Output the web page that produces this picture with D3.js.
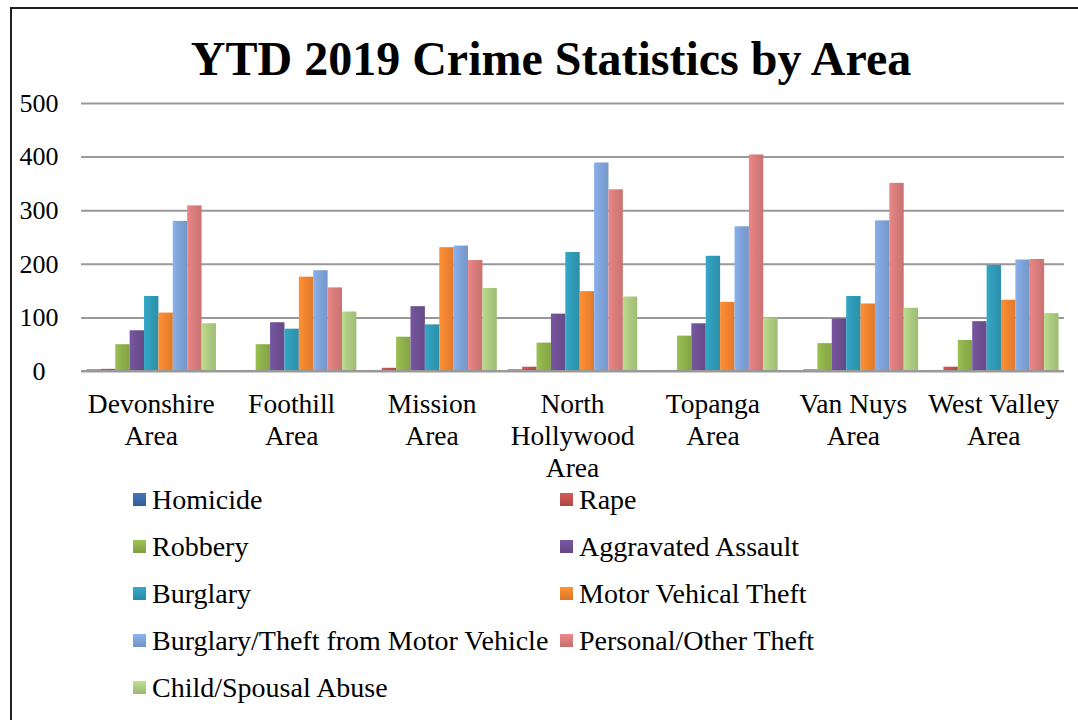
<!DOCTYPE html>
<html>
<head>
<meta charset="utf-8">
<script src="https://cdn.jsdelivr.net/npm/d3@7"></script>
<style>
  html, body { margin: 0; padding: 0; background: #fff; }
  svg { display: block; }
  text { font-family: "Liberation Serif", "Times New Roman", serif; fill: #000; }
</style>
</head>
<body>
<svg id="chart" width="1078" height="720"></svg>
<script>
// ---------- data ----------
const categories = ["Devonshire Area", "Foothill Area", "Mission Area", "North Hollywood Area", "Topanga Area", "Van Nuys Area", "West Valley Area"];
const seriesNames = ["Homicide", "Rape", "Robbery", "Aggravated Assault", "Burglary", "Motor Vehical Theft", "Burglary/Theft from Motor Vehicle", "Personal/Other Theft", "Child/Spousal Abuse"];
const homicide      = [3, 1, 2, 3, 1, 1, 2];
const rape          = [4, 2, 6, 8, 2, 3, 8];
const robbery       = [50, 50, 64, 53, 66, 52, 58];
const aggravated    = [76, 91, 121, 107, 89, 98, 93];
const burglary      = [140, 79, 87, 222, 215, 140, 198];
const motorTheft    = [109, 176, 231, 149, 129, 126, 133];
const theftFromVeh  = [280, 188, 234, 389, 270, 281, 208];
const personalTheft = [309, 156, 207, 339, 404, 351, 209];
const childAbuse    = [89, 111, 155, 139, 100, 118, 108];
const yTicks = [0, 100, 200, 300, 400, 500];
const title = "YTD 2019 Crime Statistics by Area";

const seriesValues = [homicide, rape, robbery, aggravated, burglary, motorTheft, theftFromVeh, personalTheft, childAbuse];
const colors = ["#3a6aa6", "#c0504d", "#8db04a", "#6d4f92", "#2f9ab6", "#f0842f", "#7ea2d8", "#d87b7b", "#acca80"];

// ---------- layout ----------
const svg = d3.select("#chart");
const W = 1078, H = 720;

// outer frame
svg.append("path")
  .attr("d", `M11,${H + 5} L11,8 L${W + 5},8`)
  .attr("fill", "none").attr("stroke", "#222").attr("stroke-width", 2);

// title
svg.append("text")
  .attr("x", 551).attr("y", 75)
  .attr("text-anchor", "middle")
  .style("font-size", "48px").style("font-weight", "bold")
  .text(title);

const x = d3.scaleBand().domain(categories).range([81, 1064]).paddingInner(0).paddingOuter(0);
const xs = d3.scaleBand().domain(seriesNames).range([0, x.bandwidth()]).paddingInner(0).paddingOuter(0.38);
const y = d3.scaleLinear().domain([0, 500]).range([371, 103]);

// gradients
const defs = svg.append("defs");
colors.forEach((c, i) => {
  const g = defs.append("linearGradient").attr("id", "grad" + i)
    .attr("x1", "0%").attr("x2", "100%").attr("y1", "0%").attr("y2", "0%");
  g.append("stop").attr("offset", "0%").attr("stop-color", d3.color(c).brighter(0.25));
  g.append("stop").attr("offset", "50%").attr("stop-color", c);
  g.append("stop").attr("offset", "100%").attr("stop-color", d3.color(c).darker(0.2));
  const lg = defs.append("linearGradient").attr("id", "lgrad" + i)
    .attr("x1", "0%").attr("x2", "0%").attr("y1", "0%").attr("y2", "100%");
  lg.append("stop").attr("offset", "0%").attr("stop-color", d3.color(c).brighter(0.3));
  lg.append("stop").attr("offset", "100%").attr("stop-color", d3.color(c).darker(0.3));
});

// gridlines
const yAxis = d3.axisLeft(y).tickValues(yTicks).tickSize(-(1064 - 81)).tickFormat(d3.format("d"));
const gy = svg.append("g").attr("transform", "translate(81,0)").call(yAxis);
gy.select(".domain").remove();
gy.selectAll(".tick line").attr("stroke", "#999").attr("stroke-width", 2);
gy.selectAll(".tick text")
  .attr("x", -42).attr("text-anchor", "middle")
  .style("font-size", "26px").style("font-family", "Liberation Serif, Times New Roman, serif");

// bars
const groups = svg.append("g").selectAll("g.series")
  .data(seriesNames).join("g").attr("class", "series")
  .attr("fill", (d, i) => `url(#grad${i})`);
groups.selectAll("rect")
  .data((s, i) => seriesValues[i].map((v, j) => ({cat: categories[j], v, s})))
  .join("rect")
  .attr("x", d => x(d.cat) + xs(d.s))
  .attr("width", xs.bandwidth())
  .attr("y", d => y(d.v))
  .attr("height", d => y(0) - y(d.v));

// x axis labels
const xAxis = d3.axisBottom(x).tickSize(0).tickPadding(0);
const gx = svg.append("g").attr("transform", "translate(0,371)").call(xAxis);
gx.select(".domain").remove();
gx.selectAll(".tick text")
  .style("font-size", "27.5px").style("font-family", "Liberation Serif, Times New Roman, serif")
  .attr("y", 0).attr("dy", null)
  .each(function(d) {
    const t = d3.select(this);
    const words = d.split(" ");
    t.text(null);
    const maxW = x.bandwidth() + 5;
    let lines = [];
    let line = [];
    let tspan = t.append("tspan");
    words.forEach(w => {
      line.push(w);
      tspan.text(line.join(" "));
      if (tspan.node().getComputedTextLength() > maxW && line.length > 1) {
        line.pop();
        lines.push(line.join(" "));
        line = [w];
        tspan.text(w);
      }
    });
    lines.push(line.join(" "));
    t.text(null);
    lines.forEach((l, k) => {
      t.append("tspan").attr("x", 0).attr("y", 42 + k * 32).text(l);
    });
  });

// axis baseline
svg.append("line")
  .attr("x1", 81).attr("x2", 1064).attr("y1", y(0)).attr("y2", y(0))
  .attr("stroke", "#999").attr("stroke-width", 2);

// legend
const legend = svg.append("g");
const colX = [133, 560];
const rowY0 = 500, rowStep = 47;
seriesNames.forEach((name, i) => {
  const cx = colX[i % 2];
  const cy = rowY0 + Math.floor(i / 2) * rowStep;
  legend.append("rect")
    .attr("x", cx).attr("y", cy - 7).attr("width", 13).attr("height", 13)
    .attr("fill", `url(#lgrad${i})`);
  legend.append("text")
    .attr("x", cx + 19).attr("y", cy + 9)
    .style("font-size", "28px")
    .text(name);
});
</script>
</body>
</html>
